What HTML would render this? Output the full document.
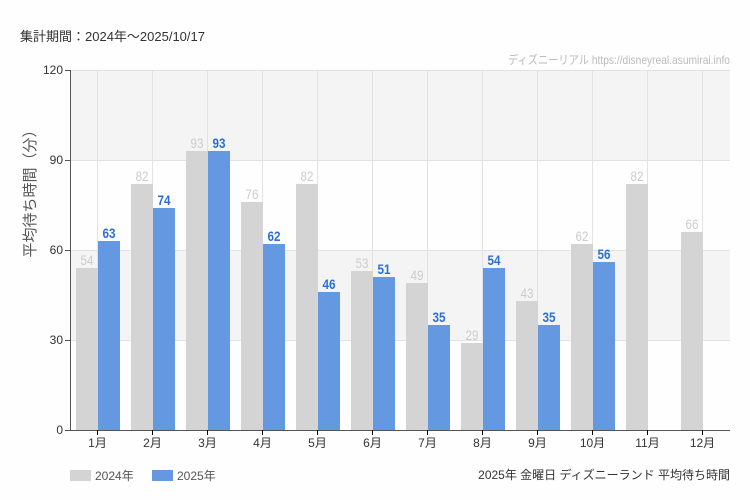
<!DOCTYPE html><html><head><meta charset="utf-8"><style>body{margin:0;background:#fff}svg{display:block;font-family:"Liberation Sans","Noto Sans CJK JP",sans-serif}</style></head><body>
<svg width="750" height="500" viewBox="0 0 750 500" xmlns="http://www.w3.org/2000/svg">
<rect width="750" height="500" fill="#fefefe"/>
<text x="20" y="41" font-size="13" fill="#333">集計期間：2024年～2025/10/17</text>
<text x="730" y="64" font-size="12" fill="#bbb" text-anchor="end" textLength="222" lengthAdjust="spacingAndGlyphs">ディズニーリアル https://disneyreal.asumirai.info</text>
<rect x="70" y="70" width="660" height="90" fill="#f4f4f4"/>
<rect x="70" y="250" width="660" height="90" fill="#f4f4f4"/>
<g stroke="#e2e2e2" stroke-width="1">
<line x1="70" y1="70.5" x2="730" y2="70.5"/><line x1="70" y1="160.5" x2="730" y2="160.5"/><line x1="70" y1="250.5" x2="730" y2="250.5"/><line x1="70" y1="340.5" x2="730" y2="340.5"/>
<line x1="97.5" y1="70" x2="97.5" y2="430"/><line x1="152.5" y1="70" x2="152.5" y2="430"/><line x1="207.5" y1="70" x2="207.5" y2="430"/><line x1="262.5" y1="70" x2="262.5" y2="430"/><line x1="317.5" y1="70" x2="317.5" y2="430"/><line x1="372.5" y1="70" x2="372.5" y2="430"/><line x1="427.5" y1="70" x2="427.5" y2="430"/><line x1="482.5" y1="70" x2="482.5" y2="430"/><line x1="537.5" y1="70" x2="537.5" y2="430"/><line x1="592.5" y1="70" x2="592.5" y2="430"/><line x1="647.5" y1="70" x2="647.5" y2="430"/><line x1="702.5" y1="70" x2="702.5" y2="430"/>
</g>
<g font-size="14" text-anchor="middle">
<rect x="76" y="268" width="22" height="162" fill="#d4d4d4"/><text x="87" y="265" fill="#ccc" textLength="13" lengthAdjust="spacingAndGlyphs">54</text>
<rect x="98" y="241" width="22" height="189" fill="#6499e2"/><text x="109" y="238" fill="#2a6fd6" font-weight="bold" textLength="13" lengthAdjust="spacingAndGlyphs">63</text>
<rect x="131" y="184" width="22" height="246" fill="#d4d4d4"/><text x="142" y="181" fill="#ccc" textLength="13" lengthAdjust="spacingAndGlyphs">82</text>
<rect x="153" y="208" width="22" height="222" fill="#6499e2"/><text x="164" y="205" fill="#2a6fd6" font-weight="bold" textLength="13" lengthAdjust="spacingAndGlyphs">74</text>
<rect x="186" y="151" width="22" height="279" fill="#d4d4d4"/><text x="197" y="148" fill="#ccc" textLength="13" lengthAdjust="spacingAndGlyphs">93</text>
<rect x="208" y="151" width="22" height="279" fill="#6499e2"/><text x="219" y="148" fill="#2a6fd6" font-weight="bold" textLength="13" lengthAdjust="spacingAndGlyphs">93</text>
<rect x="241" y="202" width="22" height="228" fill="#d4d4d4"/><text x="252" y="199" fill="#ccc" textLength="13" lengthAdjust="spacingAndGlyphs">76</text>
<rect x="263" y="244" width="22" height="186" fill="#6499e2"/><text x="274" y="241" fill="#2a6fd6" font-weight="bold" textLength="13" lengthAdjust="spacingAndGlyphs">62</text>
<rect x="296" y="184" width="22" height="246" fill="#d4d4d4"/><text x="307" y="181" fill="#ccc" textLength="13" lengthAdjust="spacingAndGlyphs">82</text>
<rect x="318" y="292" width="22" height="138" fill="#6499e2"/><text x="329" y="289" fill="#2a6fd6" font-weight="bold" textLength="13" lengthAdjust="spacingAndGlyphs">46</text>
<rect x="351" y="271" width="22" height="159" fill="#d4d4d4"/><text x="362" y="268" fill="#ccc" textLength="13" lengthAdjust="spacingAndGlyphs">53</text>
<rect x="373" y="277" width="22" height="153" fill="#6499e2"/><text x="384" y="274" fill="#2a6fd6" font-weight="bold" textLength="13" lengthAdjust="spacingAndGlyphs">51</text>
<rect x="406" y="283" width="22" height="147" fill="#d4d4d4"/><text x="417" y="280" fill="#ccc" textLength="13" lengthAdjust="spacingAndGlyphs">49</text>
<rect x="428" y="325" width="22" height="105" fill="#6499e2"/><text x="439" y="322" fill="#2a6fd6" font-weight="bold" textLength="13" lengthAdjust="spacingAndGlyphs">35</text>
<rect x="461" y="343" width="22" height="87" fill="#d4d4d4"/><text x="472" y="340" fill="#ccc" textLength="13" lengthAdjust="spacingAndGlyphs">29</text>
<rect x="483" y="268" width="22" height="162" fill="#6499e2"/><text x="494" y="265" fill="#2a6fd6" font-weight="bold" textLength="13" lengthAdjust="spacingAndGlyphs">54</text>
<rect x="516" y="301" width="22" height="129" fill="#d4d4d4"/><text x="527" y="298" fill="#ccc" textLength="13" lengthAdjust="spacingAndGlyphs">43</text>
<rect x="538" y="325" width="22" height="105" fill="#6499e2"/><text x="549" y="322" fill="#2a6fd6" font-weight="bold" textLength="13" lengthAdjust="spacingAndGlyphs">35</text>
<rect x="571" y="244" width="22" height="186" fill="#d4d4d4"/><text x="582" y="241" fill="#ccc" textLength="13" lengthAdjust="spacingAndGlyphs">62</text>
<rect x="593" y="262" width="22" height="168" fill="#6499e2"/><text x="604" y="259" fill="#2a6fd6" font-weight="bold" textLength="13" lengthAdjust="spacingAndGlyphs">56</text>
<rect x="626" y="184" width="22" height="246" fill="#d4d4d4"/><text x="637" y="181" fill="#ccc" textLength="13" lengthAdjust="spacingAndGlyphs">82</text>
<rect x="681" y="232" width="22" height="198" fill="#d4d4d4"/><text x="692" y="229" fill="#ccc" textLength="13" lengthAdjust="spacingAndGlyphs">66</text>
</g>
<g stroke="#555" stroke-width="1">
<line x1="70.5" y1="70" x2="70.5" y2="430"/><line x1="70" y1="430.5" x2="730" y2="430.5"/>
<line x1="65" y1="70.5" x2="70" y2="70.5"/><line x1="65" y1="160.5" x2="70" y2="160.5"/><line x1="65" y1="250.5" x2="70" y2="250.5"/><line x1="65" y1="340.5" x2="70" y2="340.5"/><line x1="65" y1="430.5" x2="70" y2="430.5"/>
</g>
<g stroke="#000"><line x1="97.5" y1="430" x2="97.5" y2="435"/><line x1="152.5" y1="430" x2="152.5" y2="435"/><line x1="207.5" y1="430" x2="207.5" y2="435"/><line x1="262.5" y1="430" x2="262.5" y2="435"/><line x1="317.5" y1="430" x2="317.5" y2="435"/><line x1="372.5" y1="430" x2="372.5" y2="435"/><line x1="427.5" y1="430" x2="427.5" y2="435"/><line x1="482.5" y1="430" x2="482.5" y2="435"/><line x1="537.5" y1="430" x2="537.5" y2="435"/><line x1="592.5" y1="430" x2="592.5" y2="435"/><line x1="647.5" y1="430" x2="647.5" y2="435"/><line x1="702.5" y1="430" x2="702.5" y2="435"/></g>
<g font-size="12" fill="#333" text-anchor="end">
<text x="63" y="74">120</text><text x="63" y="164">90</text><text x="63" y="254">60</text><text x="63" y="344">30</text><text x="63" y="434">0</text>
</g>
<g font-size="12" fill="#333" text-anchor="middle">
<text x="97.5" y="447">1月</text><text x="152.5" y="447">2月</text><text x="207.5" y="447">3月</text><text x="262.5" y="447">4月</text><text x="317.5" y="447">5月</text><text x="372.5" y="447">6月</text><text x="427.5" y="447">7月</text><text x="482.5" y="447">8月</text><text x="537.5" y="447">9月</text><text x="592.5" y="447">10月</text><text x="647.5" y="447">11月</text><text x="702.5" y="447">12月</text>
</g>
<text transform="translate(35,190) rotate(-90)" font-size="15" fill="#555" text-anchor="middle">平均待ち時間（分）</text>
<rect x="70" y="470" width="21" height="11" fill="#d4d4d4"/><text x="95" y="480" font-size="12" fill="#555">2024年</text>
<rect x="152" y="470" width="21" height="11" fill="#6499e2"/><text x="177" y="480" font-size="12" fill="#555">2025年</text>
<text x="730" y="479" font-size="12" fill="#333" text-anchor="end">2025年 金曜日 ディズニーランド 平均待ち時間</text>
</svg></body></html>
